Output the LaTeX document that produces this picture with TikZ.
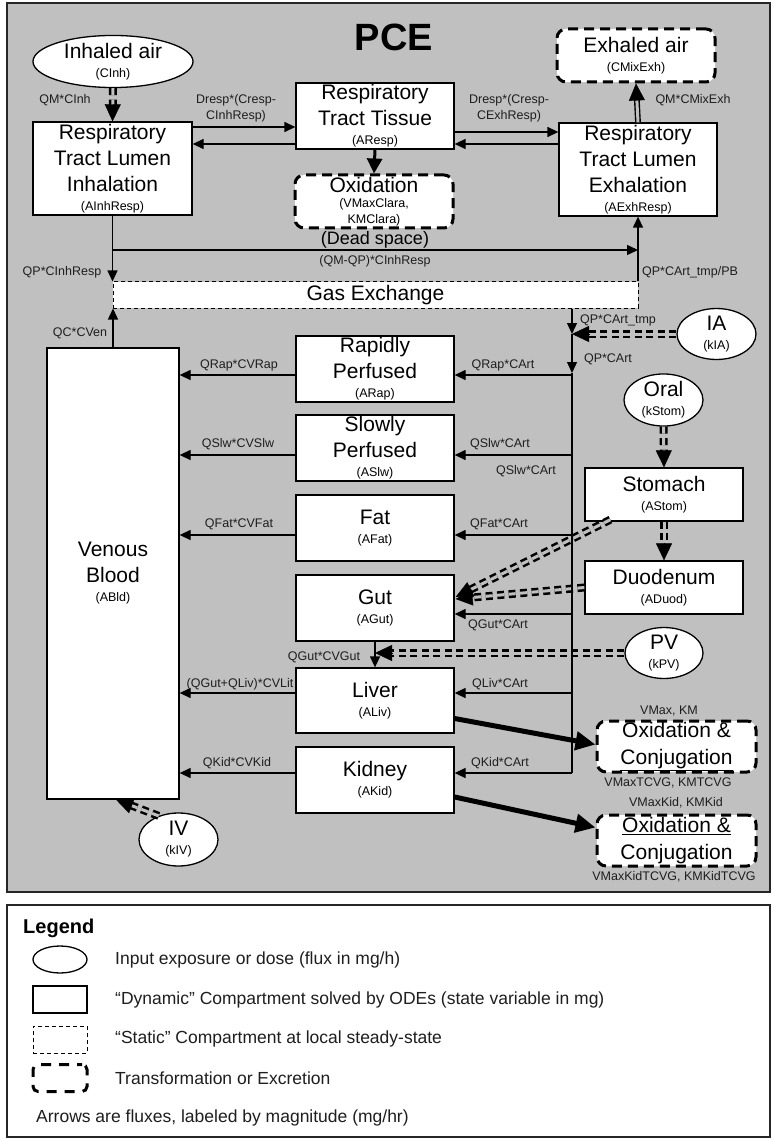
\documentclass[tikz,border=0pt]{standalone}
\usepackage{fontspec}
\setmainfont{Liberation Sans}
\usetikzlibrary{arrows.meta,shapes.geometric,calc}
\definecolor{bgc}{RGB}{192,192,192}
\definecolor{txt}{RGB}{30,30,30}
\newcommand\bigf{\fontsize{21}{26}\selectfont}
\newcommand\smf{\fontsize{12.5}{14}\selectfont}
\newcommand\dblarr[3][]{%
  \draw[dbl,#1,shorten >=15pt] (#2) -- (#3);
  \draw[dtip] ($(#3)!17pt!(#2)$) -- (#3);}
\begin{document}
\begin{tikzpicture}[x=1pt,y=-1pt,
  box/.style={draw, fill=white, line width=1.3pt, inner sep=0pt, align=center, font=\bigf},
  xbox/.style={draw, fill=white, line width=3pt, dash pattern=on 10pt off 6pt, rounded corners=9pt, inner sep=0pt, align=center, font=\bigf},
  sbox/.style={draw, fill=white, line width=1pt, dash pattern=on 4pt off 3pt, inner sep=0pt, align=center, font=\bigf},
  inp/.style={ellipse, draw, fill=white, line width=1.3pt, inner sep=0pt, align=center, font=\bigf},
  lbl/.style={font=\smf, text=txt, inner sep=0pt, align=center},
  flow/.style={line width=1.3pt, -{Triangle[length=11pt,width=10pt]}},
  plain/.style={line width=1.3pt},
  thk/.style={line width=5pt, -{Triangle[length=20pt,width=18pt]}},
  med/.style={line width=3pt, -{Triangle[length=15pt,width=15pt]}},
  dbl/.style={draw=black, line width=2.5pt, double=bgc, double distance=3pt, dash pattern=on 7pt off 4.5pt},
  dsol/.style={draw=black, line width=1.4pt, double=bgc, double distance=3pt},
  dtip/.style={line width=0.4pt, -{Triangle[length=17pt,width=16pt]}},
  legt/.style={font=\fontsize{17.5}{20}\selectfont, text=txt, anchor=west, inner sep=0pt}
]
\useasboundingbox (0,0) rectangle (773,1139);
\draw[fill=bgc, line width=1.5pt, draw=black!85] (7,3) rectangle (770,892);
\draw[fill=white, line width=1.5pt, draw=black!85] (7,905) rectangle (770,1137);

\node[font=\fontsize{38}{40}\selectfont\bfseries] (title) at (394,37) {PCE};

% nodes
\node[inp, minimum width=160pt, minimum height=37pt] (inh) at (113,61.5) {Inhaled air\\[-7pt]{\smf (CInh)}};
\node[box, minimum width=159pt, minimum height=93pt] (lin) at (112.5,168.5) {Respiratory\\Tract Lumen\\Inhalation\\[-7pt]{\smf (AInhResp)}};
\node[box, minimum width=158pt, minimum height=66pt] (tis) at (375,116) {Respiratory\\Tract Tissue\\[-7pt]{\smf (AResp)}};
\node[xbox, minimum width=158pt, minimum height=53pt] (oxr) at (374,201.5) {Oxidation\\[-11pt]{\smf (VMaxClara,}\\[-10pt]{\smf KMClara)}};
\node[xbox, minimum width=158pt, minimum height=53pt] (exa) at (636,55.5) {Exhaled air\\[-7pt]{\smf (CMixExh)}};
\node[box, minimum width=158pt, minimum height=93pt] (lex) at (638,169.5) {Respiratory\\Tract Lumen\\Exhalation\\[-7pt]{\smf (AExhResp)}};
\node[sbox, minimum width=525pt, minimum height=26pt] (gas) at (375.5,295) {Gas Exchange};
\node[box, minimum width=132pt, minimum height=451pt] (ven) at (113,573.5) {Venous\\Blood\\[-7pt]{\smf (ABld)}};
\node[box, minimum width=158pt, minimum height=66pt] (rap) at (375,369) {Rapidly\\Perfused\\[-7pt]{\smf (ARap)}};
\node[box, minimum width=158pt, minimum height=66pt] (slw) at (375,448) {Slowly\\Perfused\\[-7pt]{\smf (ASlw)}};
\node[box, minimum width=158pt, minimum height=66pt] (fat) at (375,528) {Fat\\[-7pt]{\smf (AFat)}};
\node[box, minimum width=158pt, minimum height=66pt] (gut) at (375,608) {Gut\\[-7pt]{\smf (AGut)}};
\node[box, minimum width=158pt, minimum height=65pt] (liv) at (375,700.5) {Liver\\[-7pt]{\smf (ALiv)}};
\node[box, minimum width=158pt, minimum height=66pt] (kid) at (375,780) {Kidney\\[-7pt]{\smf (AKid)}};
\node[inp, minimum width=79pt, minimum height=48pt] (ia) at (716.5,334) {IA\\[-7pt]{\smf (kIA)}};
\node[inp, minimum width=79pt, minimum height=48pt] (oral) at (663.5,400) {Oral\\[-7pt]{\smf (kStom)}};
\node[box, minimum width=158pt, minimum height=53pt] (sto) at (664,494.5) {Stomach\\[-7pt]{\smf (AStom)}};
\node[box, minimum width=158pt, minimum height=53pt] (duo) at (664,587.5) {Duodenum\\[-7pt]{\smf (ADuod)}};
\node[inp, minimum width=78pt, minimum height=46pt] (pv) at (664,653) {PV\\[-7pt]{\smf (kPV)}};
\node[xbox, minimum width=159pt, minimum height=51pt] (oc1) at (676.5,746.5) {Oxidation \&\\[1pt]\underline{Conjugation}};
\node[xbox, minimum width=159pt, minimum height=51pt] (oc2) at (676.5,840.5) {\underline{Oxidation \&}\\[1pt]Conjugation};
\node[inp, minimum width=79pt, minimum height=53pt] (iv) at (178.5,839.5) {IV\\[-7pt]{\smf (kIV)}};

% coordinates
\coordinate (aTop) at (gas.south -| 572,0);
\coordinate (aIA) at (572,334);
\coordinate (aQP) at (572,373);
\coordinate (bRap) at (572,375);
\coordinate (bSlw) at (572,455);
\coordinate (bFat) at (572,535);
\coordinate (bGut) at (572,614);
\coordinate (bLiv) at (572,693);
\coordinate (bKid) at (572,773);
\coordinate (iaEnd) at (aIA |- ia.west);
\coordinate (pvEnd) at (gut.south |- pv.west);
\coordinate (stoOut) at ([xshift=26pt,yshift=2pt]sto.south west);
\coordinate (gutIn1) at ([xshift=1pt,yshift=11pt]gut.east);
\coordinate (gutIn2) at ([xshift=1pt,yshift=9pt]gut.east);
\coordinate (venIn) at ([xshift=3pt]ven.south);
\coordinate (dsL) at (lin.south |- 0,250);
\coordinate (dsR) at (lex.south |- 0,250);

% double (dashed) fluxes
\dblarr{inh.south}{lin.north}
\dblarr{oral.south}{sto.north}
\dblarr{sto.south}{duo.north}
\dblarr{ia.west}{iaEnd}
\dblarr{pv.west}{pvEnd}
\dblarr{stoOut}{gutIn1}
\dblarr{duo.west}{gutIn2}
\dblarr{iv.130}{venIn}
\draw[dsol, shorten >=15pt] (lex.north) -- (exa.south);
\draw[dtip] ($(exa.south)!17pt!(lex.north)$) -- (exa.south);

% respiratory fluxes
\draw[flow] (lin.east |- 0,127) -- (tis.west |- 0,127);
\draw[flow] (tis.west |- 0,144) -- (lin.east |- 0,144);
\draw[flow] (tis.east |- 0,132) -- (lex.west |- 0,132);
\draw[flow] (lex.west |- 0,144) -- (tis.east |- 0,144);
\draw[med] (tis.south) -- (oxr.north);
\draw[flow] (lin.south) -- (lin.south |- gas.north);
\draw[flow] (dsL) -- (dsR);
\draw[flow] (lex.south |- gas.north) -- (lex.south);
\draw[flow] (ven.north) -- (ven.north |- gas.south);

% arterial
\draw[flow] (aTop) -- (aIA);
\draw[flow] (aIA) -- (aQP);
\draw[plain] (aQP) -- (bKid);
\foreach \b/\o in {bRap/rap, bSlw/slw, bFat/fat, bGut/gut, bLiv/liv, bKid/kid}
  \draw[flow] (\b) -- (\b -| \o.east);
\foreach \b/\o in {bRap/rap, bSlw/slw, bFat/fat, bLiv/liv, bKid/kid}
  \draw[flow] (\b -| \o.west) -- (\b -| ven.east);
\draw[flow] (gut.south) -- (liv.north);
\draw[thk] ([yshift=-18pt]liv.east) -- ([yshift=2pt]oc1.west);
\draw[thk] ([yshift=-17pt]kid.east) -- ([yshift=13pt]oc2.west);

% labels
\node[lbl] (l1) at (65,100) {QM*CInh};
\node[lbl, font=\fontsize{12.5}{16}\selectfont] (l2) at (236,108) {Dresp*(Cresp-\\CInhResp)};
\node[lbl, font=\fontsize{12.5}{16}\selectfont] (l3) at (509,108) {Dresp*(Cresp-\\CExhResp)};
\node[lbl] (l4) at (693,100) {QM*CMixExh};
\node[lbl, font=\fontsize{18}{20}\selectfont, text=black] (l5) at (375,240) {(Dead space)};
\node[lbl] (l6) at (375,261) {(QM-QP)*CInhResp};
\node[lbl] (l7) at (62,272) {QP*CInhResp};
\node[lbl] (l8) at (690,272) {QP*CArt\_tmp/PB};
\node[lbl] (l9) at (80,333) {QC*CVen};
\node[lbl] (l10) at (618,320) {QP*CArt\_tmp};
\node[lbl] (l11) at (608,359) {QP*CArt};
\node[lbl] (l12) at (239,365) {QRap*CVRap};
\node[lbl] (l13) at (238,444) {QSlw*CVSlw};
\node[lbl] (l14) at (239,524) {QFat*CVFat};
\node[lbl] (l15) at (503,365) {QRap*CArt};
\node[lbl] (l16) at (500,444) {QSlw*CArt};
\node[lbl] (l17) at (526,471) {QSlw*CArt};
\node[lbl] (l18) at (499,524) {QFat*CArt};
\node[lbl] (l19) at (498,625) {QGut*CArt};
\node[lbl] (l20) at (324,657) {QGut*CVGut};
\node[lbl] (l21) at (240,684) {(QGut+QLiv)*CVLit};
\node[lbl] (l22) at (500,684) {QLiv*CArt};
\node[lbl] (l23) at (237,763) {QKid*CVKid};
\node[lbl] (l24) at (500,763) {QKid*CArt};
\node[lbl] (l25) at (669,711) {VMax, KM};
\node[lbl] (l26) at (668,783) {VMaxTCVG, KMTCVG};
\node[lbl] (l27) at (676,803) {VMaxKid, KMKid};
\node[lbl] (l28) at (674,877) {VMaxKidTCVG, KMKidTCVG};

% legend
\node[anchor=west, inner sep=0pt, font=\fontsize{20}{24}\selectfont\bfseries] (legT) at (23,928) {Legend};
\node[ellipse, draw, line width=1.3pt, minimum width=54pt, minimum height=27pt, inner sep=0pt] (legE) at (60,959.5) {};
\node[draw, line width=1.3pt, minimum width=54pt, minimum height=27pt, inner sep=0pt] (legR) at (60,999.5) {};
\node[draw, line width=1pt, dash pattern=on 4pt off 3pt, minimum width=54pt, minimum height=27pt, inner sep=0pt] (legS) at (60,1039.5) {};
\node[draw, line width=3pt, dash pattern=on 10pt off 8pt, dash phase=5pt, rounded corners=5pt, minimum width=54pt, minimum height=27pt, inner sep=0pt] (legX) at (60,1078) {};
\node[legt] (lt1) at (115,960) {Input exposure or dose (flux in mg/h)};
\node[legt] (lt2) at (115,1000) {“Dynamic” Compartment solved by ODEs (state variable in mg)};
\node[legt] (lt3) at (115,1039) {“Static” Compartment at local steady-state};
\node[legt] (lt4) at (115,1078) {Transformation or Excretion};
\node[legt] (lt5) at (36,1118) {Arrows are fluxes, labeled by magnitude (mg/hr)};
\end{tikzpicture}
\end{document}
